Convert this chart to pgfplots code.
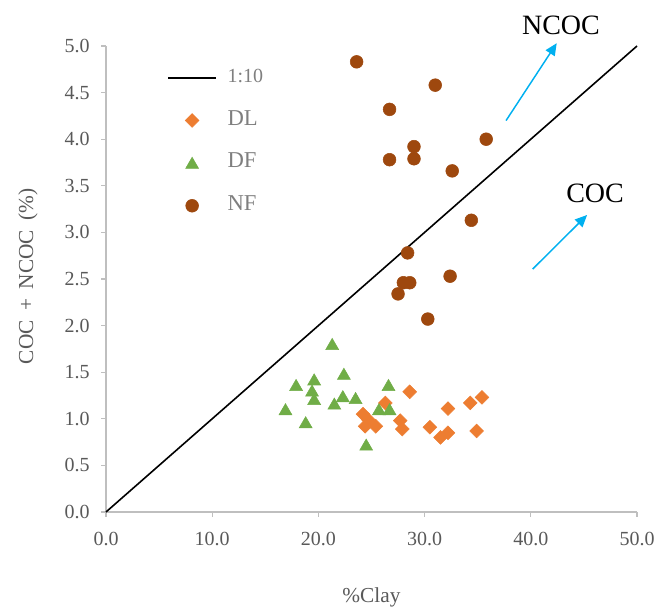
\documentclass[border=0pt]{standalone}
\usepackage{fontspec}
\setmainfont{Liberation Serif}
\usepackage{pgfplots}
\pgfplotsset{compat=1.18}
\usetikzlibrary{arrows.meta}
\definecolor{dlc}{HTML}{ED7D31}
\definecolor{dfc}{HTML}{70AD47}
\definecolor{nfc}{HTML}{9E480E}
\definecolor{axc}{HTML}{BFBFBF}
\definecolor{tkc}{HTML}{595959}
\definecolor{lgc}{HTML}{7F7F7F}
\definecolor{arc}{HTML}{00B0F0}
\begin{document}
\begin{tikzpicture}
\begin{axis}[
  scale only axis, width=398.25pt, height=349.5pt,
  xmin=0, xmax=50, ymin=0, ymax=5,
  xtick={0,10,20,30,40,50},
  ytick={0,0.5,1,1.5,2,2.5,3,3.5,4,4.5,5},
  axis lines=left,
  axis line style={axc, line width=0.8pt, -},
  tick align=outside, major tick length=3.75pt,
  tick style={axc, line width=0.8pt},
  /pgf/number format/assume math mode=true,
  ticklabel style={font=\fontsize{15}{15}\selectfont, text=tkc,
    /pgf/number format/fixed, /pgf/number format/fixed zerofill,
    /pgf/number format/precision=1},
  xticklabel style={yshift=-8pt},
  yticklabel style={xshift=-5pt},
  xlabel={\%Clay},
  ylabel={COC\hspace{0.45em}+\hspace{0.45em}NCOC\hspace{0.45em}(\%)},
  label style={font=\fontsize{16}{16}\selectfont, text=tkc},
  xlabel style={at={([yshift=-63.75pt]rel axis cs:0.5,0)}, anchor=center},
  ylabel style={at={([xshift=-58.5pt]rel axis cs:0,0.506)}, anchor=center},
  clip=false,
  legend style={at={(rel axis cs:0.115,0.951)}, anchor=north west,
    draw=none, fill=none, inner sep=0pt, row sep=19pt, column sep=8pt,
    nodes={inner sep=0pt, text height=10pt, text depth=3pt},
    text=lgc},
  legend cell align=left,
  legend image code/.code={\draw[mark repeat=2,mark phase=2,#1] plot coordinates {(0pt,0pt) (18pt,0pt) (36pt,0pt)};},
]
\coordinate (bl) at (rel axis cs:0,0);
\coordinate (tr) at (rel axis cs:1,1);
\addplot[black, line width=1.2pt, no marks] coordinates {(0,0) (50,5)};
\addlegendentry{\fontsize{15}{15}\selectfont 1:10}
\addplot[only marks, mark=square*, mark size=3.65pt, mark options={rotate=45, fill=dlc, draw=dlc}] coordinates {
(28.6,1.29) (26.3,1.17) (35.4,1.23) (34.3,1.17) (32.2,1.11) (24.2,1.05) (24.7,0.99) (27.7,0.98) (24.4,0.92) (25.4,0.92) (27.9,0.89) (30.5,0.91) (32.2,0.85) (31.5,0.80) (34.9,0.87)};
\addlegendentry{\fontsize{17}{17}\selectfont DL}
\addplot[only marks, mark=triangle*, mark size=5.6pt, mark options={fill=dfc, draw=dfc, yshift=-1.2pt}] coordinates {
(21.3,1.80) (22.4,1.48) (19.6,1.42) (17.9,1.36) (26.6,1.36) (19.4,1.30) (19.6,1.21) (22.3,1.24) (23.5,1.22) (21.5,1.16) (16.9,1.10) (25.7,1.10) (26.7,1.10) (18.8,0.96) (24.5,0.72)};
\addlegendentry{\fontsize{17}{17}\selectfont DF}
\addplot[only marks, mark=*, mark size=4.8pt, mark options={fill=nfc, draw=nfc}] coordinates {
(23.6,4.83) (31.0,4.58) (26.7,4.32) (35.8,4.00) (29.0,3.92) (29.0,3.79) (26.7,3.78) (32.6,3.66) (34.4,3.13) (28.4,2.78) (32.4,2.53) (28.0,2.46) (28.6,2.46) (27.5,2.34) (30.3,2.07)};
\addlegendentry{\fontsize{17}{17}\selectfont NF}
\draw[arc, line width=1.1pt, -{Triangle[length=9pt,width=8pt]}] (axis cs:37.67,4.2) -- (axis cs:42.44,5.03);
\draw[arc, line width=1.1pt, -{Triangle[length=9pt,width=8pt]}] (axis cs:40.18,2.607) -- (axis cs:45.3,3.187);
\node[font=\fontsize{21}{21}\selectfont] at (axis cs:42.84,5.225) {NCOC};
\node[font=\fontsize{21}{21}\selectfont] at (axis cs:46.05,3.423) {COC};
\end{axis}
\useasboundingbox ([shift={(-79.5pt,-70.5pt)}]bl) rectangle ([shift={(18pt,34.5pt)}]tr);
\end{tikzpicture}
\end{document}
